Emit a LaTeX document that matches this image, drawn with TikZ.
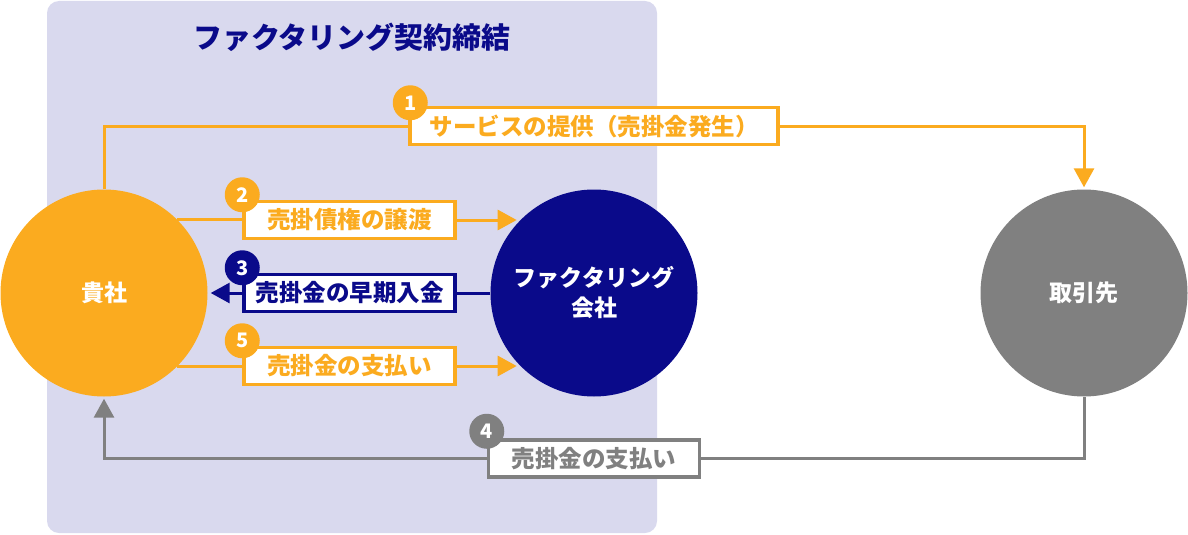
\documentclass[tikz,border=0pt]{standalone}
\usepackage{fontspec}
\setmainfont{Noto Sans CJK JP}
\usetikzlibrary{arrows.meta,positioning}
\definecolor{orng}{HTML}{FBAB1F}
\definecolor{nvy}{HTML}{0A0A8A}
\definecolor{gry}{HTML}{808080}
\definecolor{lav}{HTML}{D9D9EE}
\tikzset{
  party/.style={circle, minimum size=207pt, inner sep=0pt, text=white, align=center,
    font=\bfseries\fontsize{23}{30}\selectfont},
  lbl/.style={draw=#1, text=#1, fill=white, line width=3.5pt, minimum height=37pt,
    inner sep=0pt, font=\bfseries\fontsize{23.5}{26}\selectfont},
  badge/.style={circle, fill=#1, minimum size=35pt, inner sep=0pt, text=white,
    font=\bfseries\fontsize{20}{20}\selectfont},
  flow/.style={draw=#1, line width=3pt},
  arw/.style={-{Triangle[width=20pt,length=19pt]}},
}

\begin{document}
\begin{tikzpicture}[x=1pt,y=-1pt]
  \useasboundingbox (0,0) rectangle (1188,535);
  \fill[lav, rounded corners=12pt] (47,1) rectangle (657,533);
  \node[text=nvy, font=\bfseries\fontsize{29}{29}\selectfont] (title) at (352,37) {ファクタリング契約締結};

  \node[party, fill=orng] (kisha) at (104,293) {貴社};
  \node[party, fill=nvy] (fc) at (594,293) {ファクタリング\\会社};
  \node[party, fill=gry] (client) at (1084,293) {取引先};

  \node[lbl=orng, minimum width=368pt] (l1) at (594,126) {サービスの提供（売掛金発生）};
  \node[lbl=orng, minimum width=211pt] (l2) at (349.5,220) {売掛債権の譲渡};
  \node[lbl=nvy, minimum width=211pt] (l3) at (349.5,293) {売掛金の早期入金};
  \node[lbl=gry, minimum width=211pt] (l4) at (594,458.5) {売掛金の支払い};
  \node[lbl=orng, minimum width=211pt] (l5) at (349.5,366) {売掛金の支払い};

  \draw[flow=orng] (kisha.north) |- (l1.west);
  \draw[flow=orng, arw, shorten >=2pt] (l1.east) -| (client.north);
  \draw[flow=orng] (kisha.45) -- (kisha.45 -| l2.west);
  \draw[flow=orng, arw, shorten >=4pt] (l2.east) -- (l2.east -| fc.135);
  \draw[flow=nvy] (fc.west) -- (l3.east);
  \draw[flow=nvy, arw, shorten >=3pt] (l3.west) -- (kisha.east);
  \draw[flow=orng] (kisha.-45) -- (kisha.-45 -| l5.west);
  \draw[flow=orng, arw, shorten >=4pt] (l5.east) -- (l5.east -| fc.-135);
  \draw[flow=gry] (client.south) |- (l4.east);
  \draw[flow=gry, arw, shorten >=2pt] (l4.west) -| (kisha.south);

  \node[badge=orng] (b1) at ([xshift=2pt,yshift=3pt]l1.north west) {1};
  \node[badge=orng] (b2) at ([yshift=5pt]l2.north west) {2};
  \node[badge=nvy] (b3) at ([yshift=5pt]l3.north west) {3};
  \node[badge=gry] (b4) at ([yshift=7pt]l4.north west) {4};
  \node[badge=orng] (b5) at ([yshift=5pt]l5.north west) {5};
\end{tikzpicture}
\end{document}
